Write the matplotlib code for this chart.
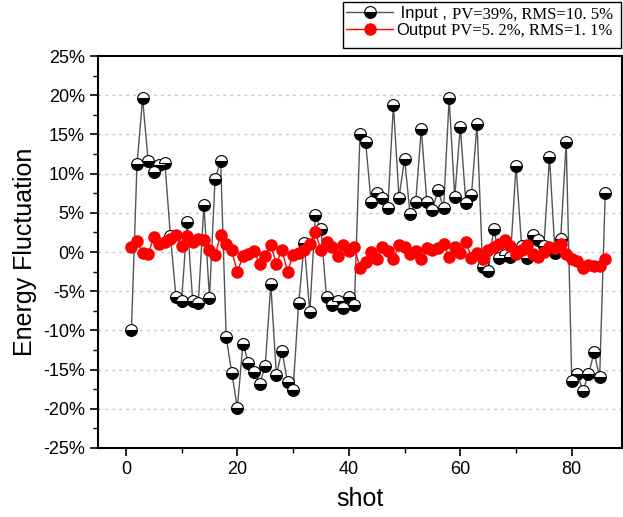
import numpy as np
import matplotlib
matplotlib.use('Agg')
import matplotlib.pyplot as plt
from matplotlib.ticker import MultipleLocator, FuncFormatter
from matplotlib.transforms import IdentityTransform
from matplotlib.patches import Rectangle
from matplotlib.font_manager import FontProperties

plt.rcParams['font.family'] = 'Liberation Sans'

shots = np.arange(1, 87)

# energy fluctuation in %
input_vals = [-9.9, 11.2, 19.6, 11.6, 10.2, 11.1, 11.4, 2.0, -5.8, -6.2,
              3.8, -6.3, -6.5, 6.0, -5.9, 9.3, 11.6, -10.9, -15.4, -19.9,
              -11.7, -14.1, -15.3, -16.8, -14.6, -4.1, -15.7, -12.6, -16.6, -17.6,
              -6.5, 1.1, -7.7, 4.7, 2.9, -5.8, -6.7, -6.3, -7.2, -5.8,
              -6.8, 15.0, 14.1, 6.4, 7.5, 6.9, 5.6, 18.8, 6.9, 11.9,
              4.8, 6.4, 15.7, 6.4, 5.4, 7.9, 5.6, 19.6, 7.0, 16.0,
              6.2, 7.3, 16.3, -1.9, -2.4, 3.0, -0.7, -0.4, -0.6, 11.0,
              0.8, -0.8, 2.2, 1.5, 0.8, 12.1, -0.1, 1.6, 14.0, -16.4,
              -15.6, -17.7, -15.6, -12.8, -16.0, 7.5]

output_vals = [0.7, 1.4, -0.1, -0.3, 1.9, 1.0, 1.3, 1.7, 2.2, 0.8,
               2.1, 1.3, 1.7, 1.5, 0.3, -0.4, 2.2, 1.0, 0.2, -2.6,
               -0.5, -0.2, 0.1, -1.5, -0.5, 0.9, -1.5, 0.3, -2.5, -0.4,
               -0.1, 0.3, 1.0, 2.5, 0.3, 1.3, 0.7, -0.5, 0.9, 0.1,
               0.6, -2.0, -1.3, 0.0, -0.9, 0.6, 0.1, -0.9, 0.9, 0.6,
               -0.2, 0.1, -0.9, 0.5, 0.3, 0.5, 1.0, -0.6, 0.6, -0.1,
               1.3, -0.7, -0.1, -0.9, 0.3, 0.6, 1.0, 1.5, 0.8, -0.2,
               0.3, 0.9, -0.2, -0.6, 0.0, 0.6, 0.5, 1.0, -0.2, -0.9,
               -1.2, -2.1, -1.6, -1.8, -1.8, -0.9]

names = [' Input ,', 'Output']
stats = ['PV=39%, RMS=10. 5%', 'PV=5. 2%, RMS=1. 1%']

W, H = 623, 517
fig = plt.figure(figsize=(W / 100, H / 100), dpi=100)
ax = fig.add_axes([0.1573, 0.1335, 0.841, 0.758])

ax.plot(shots, input_vals, color='#555555', lw=1.0, marker='o', ms=8.5,
        fillstyle='bottom', markerfacecolor='black', markerfacecoloralt='white',
        markeredgecolor='black', markeredgewidth=0.8, label=names[0])
ax.plot(shots, output_vals, color='red', lw=1.0, marker='o', ms=8,
        markerfacecolor='red', markeredgecolor='red', label=names[1])

ax.set_xlim(-5, 89)
ax.set_ylim(-25, 25)
ax.xaxis.set_major_locator(MultipleLocator(20))
ax.xaxis.set_minor_locator(MultipleLocator(10))
ax.yaxis.set_major_locator(MultipleLocator(5))
ax.yaxis.set_minor_locator(MultipleLocator(2.5))
ax.yaxis.set_major_formatter(FuncFormatter(lambda v, p: '%d%%' % round(v)))
ax.tick_params(which='major', direction='out', length=6, width=1.2, labelsize=13)
ax.tick_params(which='minor', direction='out', length=3.5, width=1.0)
for s in ax.spines.values():
    s.set_linewidth(1.5)

for g in range(-20, 25, 5):
    ax.axhline(g, color='#c8c8c8', lw=1.0, ls=(0, (2, 3)), zorder=0)

ax.set_xlabel('shot', fontsize=18, labelpad=6)
ax.set_ylabel('Energy Fluctuation', fontsize=18, labelpad=4)

# legend: frame drawn separately so the serif statistics fit inside it
fig.patches.append(Rectangle((343 / W, 1 - 48 / H), (621 - 343) / W, 46 / H,
                             transform=fig.transFigure, facecolor='white',
                             edgecolor='black', lw=1.0, zorder=4))
handles, _ = ax.get_legend_handles_labels()
leg = fig.legend(handles, names, loc='upper left', bbox_to_anchor=(343 / W, 1 - 3 / H),
                 fontsize=12, frameon=False, borderpad=0.2, labelspacing=0.1,
                 handlelength=2.8, handletextpad=0.2, borderaxespad=0)

fig.canvas.draw()
r = fig.canvas.get_renderer()
_, _, desc = r.get_text_width_height_descent('lp', FontProperties(family='Liberation Sans', size=12), ismath=False)
for txt, name, st in zip(leg.get_texts(), names, stats):
    bb = txt.get_window_extent(r)
    fig.text(bb.x1 + 5, bb.y0 + desc, st, fontsize=12, family='Liberation Serif',
             transform=IdentityTransform(), va='baseline', ha='left', zorder=10)

fig.savefig('out.png', dpi=100)
